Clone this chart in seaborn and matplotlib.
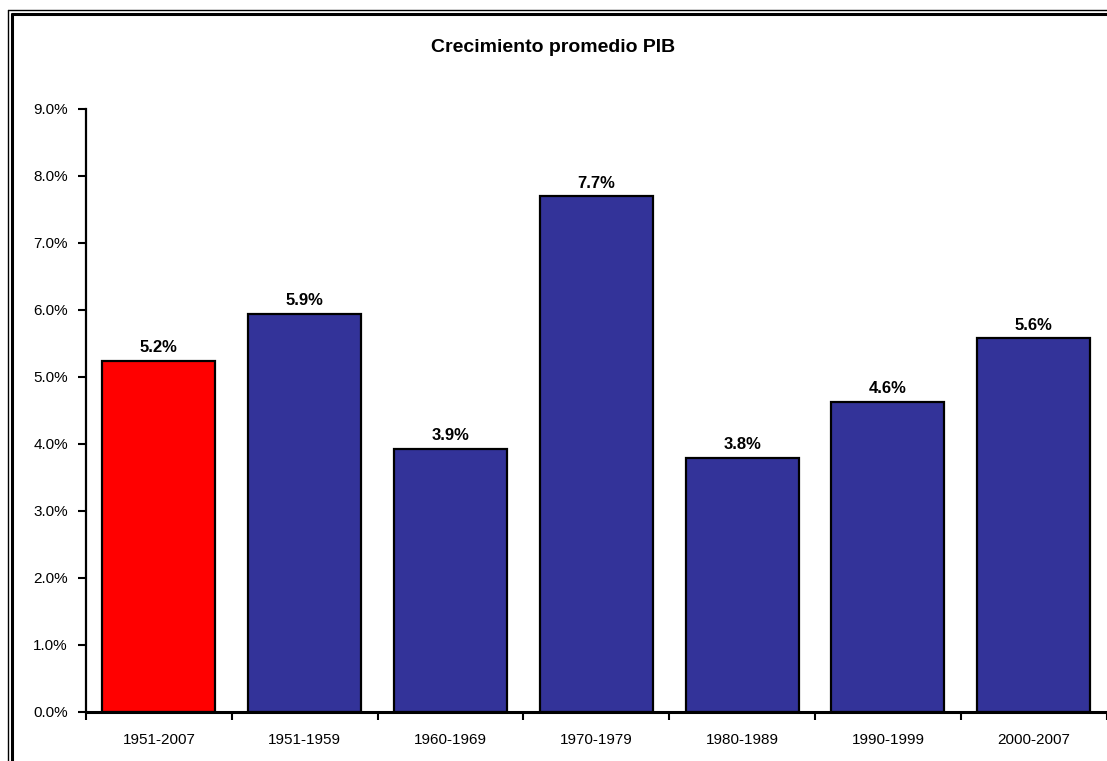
import matplotlib
matplotlib.use("Agg")
import matplotlib.pyplot as plt
from matplotlib.lines import Line2D
from matplotlib.ticker import FixedLocator, PercentFormatter
import seaborn as sns
import pandas as pd

# datos del grafico
periodos = ["1951-2007", "1951-1959", "1960-1969", "1970-1979",
            "1980-1989", "1990-1999", "2000-2007"]
crecimiento = [5.24, 5.94, 3.93, 7.70, 3.79, 4.63, 5.58]
colores = ["#FF0000", "#333399", "#333399", "#333399",
           "#333399", "#333399", "#333399"]

sns.set_style("white")
plt.rcParams["font.family"] = ["Liberation Sans", "DejaVu Sans"]
plt.rcParams["text.color"] = "black"
plt.rcParams["xtick.color"] = "black"
plt.rcParams["ytick.color"] = "black"

df = pd.DataFrame({"periodo": periodos, "valor": crecimiento})

fig = plt.figure(figsize=(11.07, 7.61), dpi=100)
ax = fig.add_axes([0.0777, 0.0644, 0.922, 0.7924])

sns.barplot(data=df, x="periodo", y="valor", hue="periodo", palette=colores,
            legend=False, width=0.775, edgecolor="black", linewidth=1.6,
            saturation=1, ax=ax)

for cont in ax.containers:
    ax.bar_label(cont, fmt="%.1f%%", padding=4, fontsize=12, fontweight="bold",
                 color="black")

ax.set_ylim(0, 9)
ax.set_xlim(-0.5, len(periodos) - 0.5)
ax.set_yticks([i for i in range(10)])
ax.yaxis.set_major_formatter(PercentFormatter(decimals=1))

# ticks del eje x en los limites de categoria
ax.xaxis.set_major_locator(FixedLocator([i - 0.5 for i in range(len(periodos) + 1)]))
ax.xaxis.set_major_formatter(plt.NullFormatter())
ax.xaxis.set_minor_locator(FixedLocator(range(len(periodos))))
ax.set_xticklabels(periodos, minor=True)
ax.tick_params(axis="x", which="major", direction="out", length=6, width=1.5,
               color="black", bottom=True)
ax.tick_params(axis="x", which="minor", length=0, pad=15, labelsize=11)
ax.tick_params(axis="y", direction="out", length=6, width=1.5, color="black",
               left=True, labelsize=11, pad=7)

ax.set_xlabel("")
ax.set_ylabel("")
for lado in ["top", "right"]:
    ax.spines[lado].set_visible(False)
ax.spines["left"].set_linewidth(1.6)
ax.spines["bottom"].set_linewidth(2.2)
ax.spines["left"].set_color("black")
ax.spines["bottom"].set_color("black")

fig.text(0.5, 0.938, "Crecimiento promedio PIB", ha="center", va="center",
         fontsize=14, fontweight="bold")

# marco doble estilo Excel
W, H = 1107, 761
fig.add_artist(Line2D([8 / W, 8 / W], [0, 1 - 9.5 / H], color="black", lw=1))
fig.add_artist(Line2D([8 / W, 1], [1 - 9.5 / H, 1 - 9.5 / H], color="black", lw=1))
fig.add_artist(Line2D([12 / W, 12 / W], [0, 1 - 13.5 / H], color="black", lw=2.2))
fig.add_artist(Line2D([12 / W, 1], [1 - 13.5 / H, 1 - 13.5 / H], color="black", lw=2.2))

fig.savefig("out.png", dpi=100)
